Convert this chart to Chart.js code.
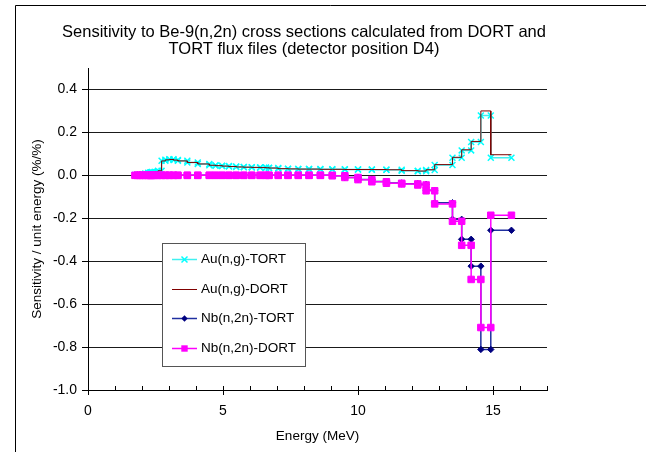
<!DOCTYPE html>
<html>
<head>
<meta charset="utf-8">
<script src="https://cdn.jsdelivr.net/npm/chart.js@4.4.1/dist/chart.umd.min.js"></script>
<style>
html,body{margin:0;padding:0;background:#fff;}
</style>
</head>
<body>
<canvas id="chart" width="646" height="452"></canvas>
<script>
// energy group boundaries (MeV)
const energyBounds = [1.7377, 1.8268, 1.9205, 2.0190, 2.1225, 2.2313, 2.3069, 2.3457, 2.3653, 2.4660,
  2.5924, 2.7253, 2.8651, 3.0119, 3.1664, 3.3287, 3.6788, 4.0657, 4.4933, 4.7237,
  4.9659, 5.2205, 5.4881, 5.7695, 6.0653, 6.3763, 6.5924, 6.7032, 7.0469, 7.4082,
  7.7880, 8.1873, 8.6071, 9.0484, 9.5123, 10.000, 10.513, 11.052, 11.618, 12.214,
  12.523, 12.840, 13.499, 13.840, 14.191, 14.550, 14.918, 15.683];

// sensitivity per group
const auTort = [0.002, 0.003, 0.004, 0.005, 0.009, 0.012, 0.013, 0.014, 0.015, 0.016,
  0.021, 0.068, 0.073, 0.075, 0.072, 0.068, 0.060, 0.053, 0.047, 0.045,
  0.043, 0.041, 0.039, 0.038, 0.037, 0.036, 0.035, 0.034, 0.031, 0.030,
  0.029, 0.029, 0.028, 0.028, 0.027, 0.027, 0.026, 0.026, 0.021, 0.019,
  0.025, 0.048, 0.082, 0.116, 0.155, 0.279, 0.082];
const auDort = [0.002, 0.003, 0.004, 0.005, 0.009, 0.012, 0.013, 0.014, 0.015, 0.016,
  0.021, 0.067, 0.072, 0.074, 0.071, 0.067, 0.060, 0.053, 0.047, 0.045,
  0.043, 0.041, 0.039, 0.038, 0.037, 0.036, 0.035, 0.034, 0.031, 0.030,
  0.029, 0.029, 0.028, 0.028, 0.027, 0.027, 0.027, 0.026, 0.022, 0.020,
  0.026, 0.050, 0.084, 0.119, 0.158, 0.300, 0.096];
const nbTort = [0, 0, 0, 0, 0, 0, 0, 0, 0, 0,
  0, 0, 0, 0, 0, 0, 0, 0, 0, 0,
  0, 0, 0, 0, 0, 0, 0, 0, 0, 0,
  0, 0, 0, -0.002, -0.010, -0.019, -0.029, -0.036, -0.039, -0.042,
  -0.070, -0.128, -0.205, -0.298, -0.423, -0.811, -0.256];
const nbDort = [0, 0, 0, 0, 0, 0, 0, 0, 0, 0,
  0, 0, 0, 0, 0, 0, 0, 0, 0, 0,
  0, 0, 0, 0, 0, 0, 0, 0, 0, 0,
  0, 0, 0, -0.002, -0.010, -0.020, -0.030, -0.037, -0.040, -0.045,
  -0.072, -0.133, -0.214, -0.326, -0.485, -0.709, -0.186];

const seriesNames = ["Au(n,g)-TORT", "Au(n,g)-DORT", "Nb(n,2n)-TORT", "Nb(n,2n)-DORT"];
const xTicks = [0, 5, 10, 15];
const yTicks = [-1.0, -0.8, -0.6, -0.4, -0.2, 0.0, 0.2, 0.4];

const FONT = '"Liberation Sans", Arial, sans-serif';

// each group -> flat step with a point at both ends
function steps(vals) {
  const pts = [];
  vals.forEach((v, i) => {
    pts.push({x: energyBounds[i], y: v});
    pts.push({x: energyBounds[i + 1], y: v});
  });
  return pts;
}

const styles = [
  {color: "#00ffff", line: "#40f0f0", marker: "crossRot", r: 4.2, w: 1.5},
  {color: "#800000", line: "#800000", marker: false, r: 0, w: 1},
  {color: "#000080", line: "#2030a0", marker: "rectRot", r: 3.2, w: 1.5},
  {color: "#ff00ff", line: "#ff00ff", marker: "rect", r: 4.6, w: 1.5}
];

const seriesData = [auTort, auDort, nbTort, nbDort];

const datasets = seriesData.map((vals, i) => ({
  label: seriesNames[i],
  data: steps(vals),
  borderColor: styles[i].line,
  borderWidth: styles[i].w,
  pointStyle: styles[i].marker || "circle",
  pointRadius: styles[i].r,
  pointBorderColor: styles[i].color,
  pointBackgroundColor: styles[i].color,
  pointBorderWidth: i === 0 ? 1.5 : 1,
  tension: 0,
  order: 4 - i
}));

function line(ctx, x1, y1, x2, y2) {
  ctx.beginPath();
  ctx.moveTo(x1, y1);
  ctx.lineTo(x2, y2);
  ctx.stroke();
}

function marker(ctx, kind, x, y, color) {
  ctx.save();
  ctx.strokeStyle = color;
  ctx.fillStyle = color;
  ctx.lineWidth = 1.5;
  if (kind === "crossRot") {
    line(ctx, x - 3, y - 3, x + 3, y + 3);
    line(ctx, x - 3, y + 3, x + 3, y - 3);
  } else if (kind === "rectRot") {
    ctx.beginPath();
    ctx.moveTo(x, y - 3.2); ctx.lineTo(x + 3.2, y); ctx.lineTo(x, y + 3.2); ctx.lineTo(x - 3.2, y);
    ctx.closePath(); ctx.fill();
  } else if (kind === "rect") {
    ctx.fillRect(x - 3.2, y - 3.2, 6.4, 6.4);
  }
  ctx.restore();
}

const decor = {
  id: "decor",
  afterDraw(chart) {
    const ctx = chart.ctx;
    const xs = chart.scales.x, ys = chart.scales.y;
    const area = chart.chartArea;
    ctx.save();

    // outer frame
    ctx.strokeStyle = "#000";
    ctx.lineWidth = 1;
    ctx.beginPath();
    ctx.moveTo(15.5, 452); ctx.lineTo(15.5, 5.5); ctx.lineTo(646, 5.5);
    ctx.stroke();

    // axis tick marks
    for (let e = xs.min; e <= xs.max; e++) {
      const px = Math.round(xs.getPixelForValue(e)) + 0.5;
      const major = xTicks.includes(e);
      line(ctx, px, area.bottom - 4, px, area.bottom + (major ? 5 : 0));
    }
    yTicks.forEach(v => {
      const py = Math.round(ys.getPixelForValue(v)) + 0.5;
      line(ctx, area.left - 6, py, area.left, py);
    });

    // title
    ctx.fillStyle = "#000";
    ctx.textAlign = "center";
    ctx.textBaseline = "middle";
    ctx.font = "16.5px " + FONT;
    ctx.fillText("Sensitivity to Be-9(n,2n) cross sections calculated from DORT and", 304, 32);
    ctx.fillText("TORT flux files (detector position D4)", 304, 49);

    // axis titles
    ctx.font = "13.5px " + FONT;
    ctx.fillText("Energy (MeV)", (area.left + area.right) / 2, 436);
    ctx.save();
    ctx.translate(37, (area.top + area.bottom) / 2);
    ctx.rotate(-Math.PI / 2);
    ctx.fillText("Sensitivity / unit energy (%/%)", 0, 0);
    ctx.restore();

    // legend
    ctx.fillStyle = "#fff";
    ctx.fillRect(162, 243, 143, 123);
    ctx.strokeStyle = "#555";
    ctx.strokeRect(162.5, 243.5, 143, 123);
    ctx.textAlign = "left";
    ctx.font = "13.5px " + FONT;
    seriesNames.forEach((name, i) => {
      const y = Math.round(259 + i * 29.7) + 0.5;
      ctx.strokeStyle = styles[i].line;
      ctx.lineWidth = styles[i].w;
      line(ctx, 172, y, 197, y);
      if (styles[i].marker) marker(ctx, styles[i].marker, 184.5, y, styles[i].color);
      ctx.fillStyle = "#000";
      ctx.fillText(name, 201, y);
    });
    ctx.restore();
  }
};

new Chart(document.getElementById("chart"), {
  type: "line",
  data: {datasets: datasets},
  options: {
    responsive: false,
    animation: false,
    devicePixelRatio: 1,
    layout: {padding: {left: 0, right: 99, top: 68, bottom: 0}},
    plugins: {legend: {display: false}, tooltip: {enabled: false}},
    scales: {
      x: {
        type: "linear",
        min: 0,
        max: 17,
        afterBuildTicks(s) { s.ticks = xTicks.map(v => ({value: v})); },
        afterFit(s) { s.height = 62; },
        grid: {drawOnChartArea: false, drawTicks: false},
        border: {display: true, color: "#000", width: 1},
        ticks: {padding: 13, color: "#000", font: {family: FONT, size: 14}, maxRotation: 0, autoSkip: false}
      },
      y: {
        type: "linear",
        min: -1.0,
        max: 0.5,
        afterBuildTicks(s) { s.ticks = yTicks.map(v => ({value: v})); },
        afterFit(s) { s.width = 88; },
        grid: {color: "#1a1a1a", lineWidth: 1, drawTicks: false},
        border: {display: true, color: "#000", width: 1},
        ticks: {padding: 11, color: "#000", font: {family: FONT, size: 14}, callback: v => v.toFixed(1)}
      }
    }
  },
  plugins: [decor]
});
</script>
</body>
</html>
